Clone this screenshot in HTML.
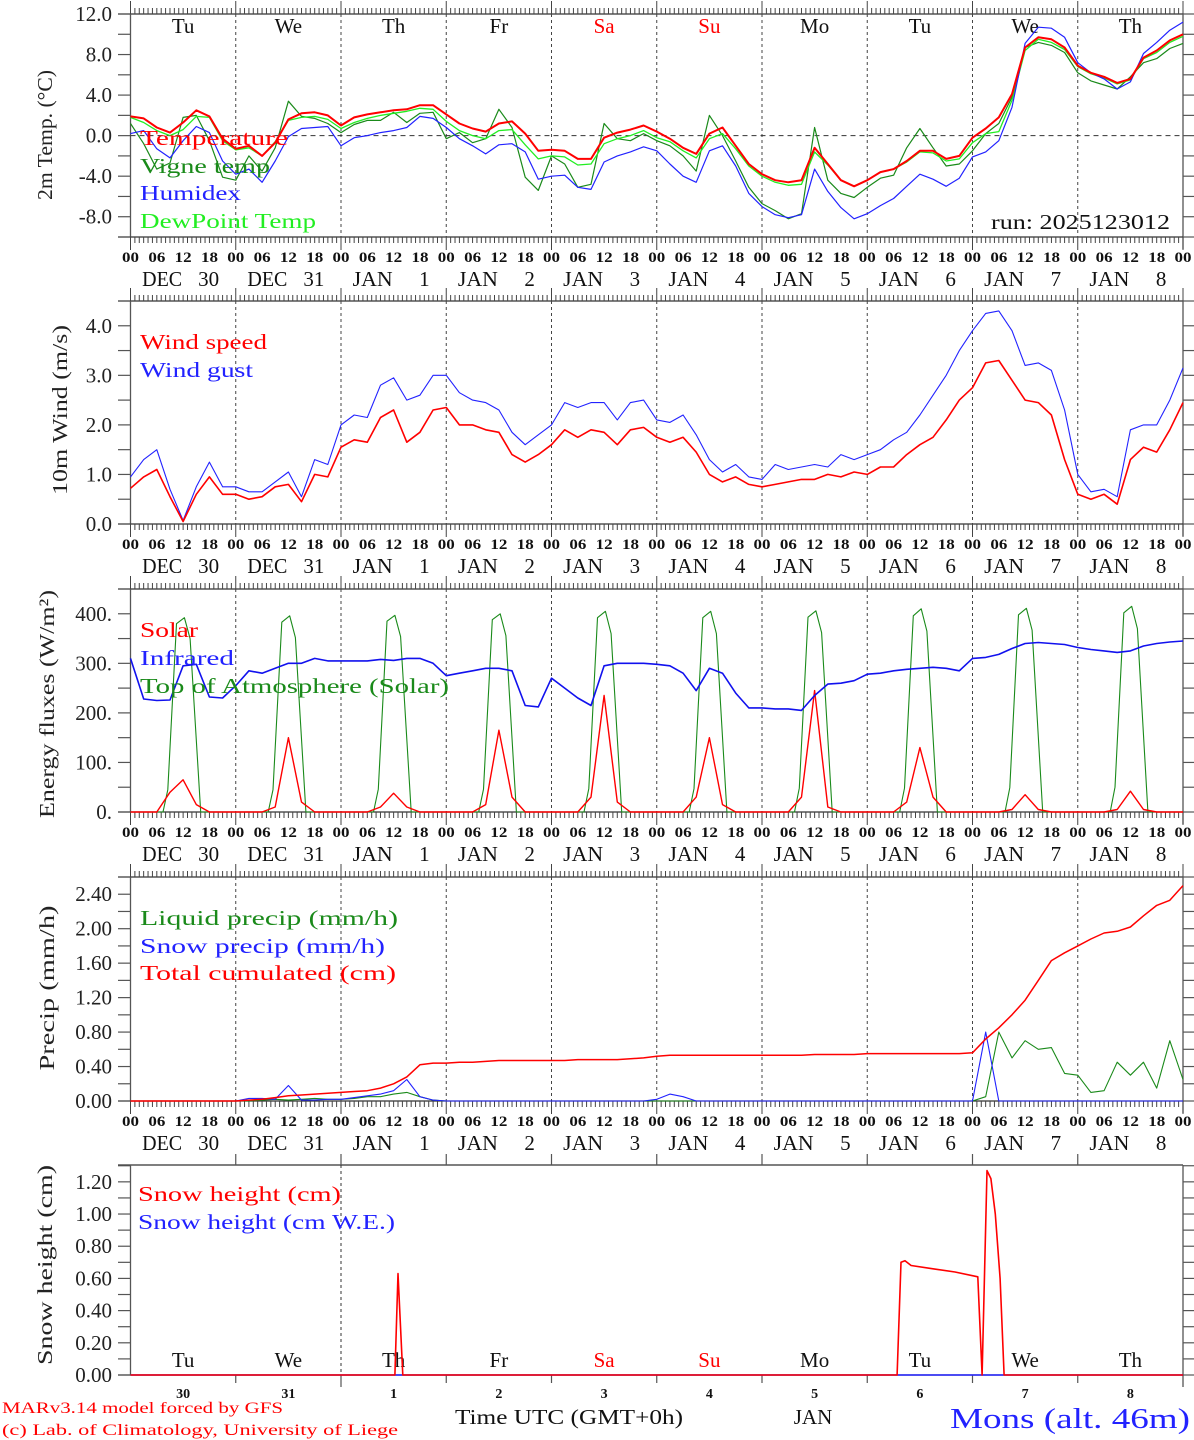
<!DOCTYPE html>
<html><head><meta charset="utf-8"><title>MAR forecast Mons</title>
<style>
html,body{margin:0;padding:0;background:#fff;}
svg{display:block;font-family:"Liberation Serif",serif;}
</style></head>
<body>
<svg id="chart" xmlns="http://www.w3.org/2000/svg" width="1194" height="1440" viewBox="0 0 1194 1440"></svg>
<script>
// ---------- DATA (3-hourly, Dec 30 00UTC .. Jan 9 00UTC) ----------
const dayNames = ["Tu","We","Th","Fr","Sa","Su","Mo","Tu","We","Th"];
const weekendDays = [4,5];
const months = ["DEC","DEC","JAN","JAN","JAN","JAN","JAN","JAN","JAN","JAN"];
const dayNums = ["30","31","1","2","3","4","5","6","7","8"];
const hourLabels = ["00","06","12","18"];

const temperature = [1.9,1.7,0.8,0.3,1.3,2.5,1.9,-0.3, -1.3,-1.0,-2.0,-0.7,1.6,2.2,2.3,2.0, 1.0,1.8,2.1,2.3,2.5,2.6,3.0,3.0, 2.1,1.2,0.7,0.4,1.2,1.4,0.2,-1.5, -1.4,-1.5,-2.3,-2.3,-0.2,0.3,0.6,1.0, 0.4,-0.3,-1.2,-1.8,0.2,0.8,-1.0,-2.8, -3.8,-4.4,-4.6,-4.4,-1.2,-2.8,-4.4,-5.0, -4.4,-3.6,-3.3,-2.5,-1.5,-1.5,-2.3,-2.0, -0.2,0.7,1.8,4.1,8.7,9.7,9.5,8.7, 6.9,6.2,5.8,5.2,5.6,7.7,8.4,9.4, 10.0];
const vigneTemp = [1.2,-0.8,-3.3,-2.7,1.8,2.0,-0.5,-4.1, -4.4,-2.0,-3.5,-1.2,3.4,1.9,1.7,1.2, 0.3,1.1,1.5,1.5,2.3,1.3,2.2,2.3, -0.3,0.3,-0.7,-0.3,2.6,0.8,-4.1,-5.4, -2.0,-2.8,-5.1,-4.8,1.2,-0.3,-0.5,0.2, -0.5,-1.0,-2.0,-3.5,2.0,0.0,-2.5,-5.1, -6.7,-7.4,-8.2,-7.7,0.8,-4.4,-5.7,-6.1, -5.1,-4.2,-3.9,-1.2,0.7,-1.2,-3.0,-2.8, -1.5,0.2,1.2,3.8,8.7,9.2,8.9,8.2, 6.2,5.4,5.0,4.6,5.8,7.2,7.6,8.6, 9.1];
const humidex = [0.2,0.5,-1.3,-2.2,-0.5,0.9,0.3,-2.5, -3.8,-3.3,-4.6,-2.5,-0.1,0.7,0.8,0.9, -1.0,-0.2,0.0,0.3,0.5,0.8,1.9,1.7, 0.8,-0.3,-1.0,-1.8,-0.9,-0.8,-1.6,-4.3, -4.0,-3.9,-5.1,-5.3,-2.6,-2.0,-1.6,-1.1, -1.5,-2.8,-4.0,-4.6,-1.5,-1.0,-3.0,-5.7, -7.0,-7.8,-8.1,-7.8,-3.3,-5.5,-7.1,-8.2, -7.7,-6.9,-6.2,-5.0,-3.8,-4.3,-5.0,-4.2, -2.1,-1.6,-0.5,2.8,9.1,10.7,10.6,9.7, 7.2,6.2,5.6,4.6,5.3,8.1,9.2,10.4, 11.2];
const dewPoint = [1.8,1.3,0.5,0.0,0.6,1.9,1.8,-0.5, -1.4,-1.2,-2.0,-0.6,1.5,1.8,1.9,1.6, 0.7,1.3,1.7,2.0,2.2,2.4,2.7,2.6, 1.4,0.5,0.0,-0.3,0.5,0.6,-0.9,-2.3, -2.0,-2.1,-2.9,-2.8,-0.8,-0.3,0.0,0.5, -0.2,-0.6,-1.5,-2.2,-0.3,0.2,-1.3,-3.0, -4.0,-4.6,-4.9,-4.8,-1.6,-2.9,-4.4,-5.0, -4.4,-3.6,-3.3,-2.6,-1.6,-1.7,-2.5,-2.3, -0.7,0.2,0.4,3.5,8.4,9.5,9.2,8.5, 6.8,6.1,5.7,5.1,5.5,7.6,8.2,9.2, 9.8];

const windSpeed = [0.72,0.95,1.1,0.55,0.05,0.6,0.95,0.6, 0.6,0.5,0.55,0.75,0.8,0.45,1.0,0.95, 1.55,1.7,1.65,2.15,2.3,1.65,1.85,2.3, 2.35,2.0,2.0,1.9,1.85,1.4,1.25,1.4, 1.6,1.9,1.75,1.9,1.85,1.6,1.9,1.95, 1.75,1.65,1.75,1.45,1.0,0.85,0.95,0.8, 0.75,0.8,0.85,0.9,0.9,1.0,0.95,1.05, 1.0,1.15,1.15,1.4,1.6,1.75,2.1,2.5, 2.75,3.25,3.3,2.9,2.5,2.45,2.2,1.3, 0.6,0.5,0.6,0.4,1.3,1.55,1.45,1.9, 2.45];
const windGust = [0.95,1.3,1.5,0.7,0.07,0.75,1.25,0.75, 0.75,0.65,0.65,0.85,1.05,0.55,1.3,1.2, 2.0,2.2,2.15,2.8,2.95,2.5,2.6,3.0, 3.0,2.65,2.5,2.45,2.3,1.85,1.6,1.8, 2.0,2.45,2.35,2.45,2.45,2.1,2.45,2.5, 2.1,2.05,2.2,1.8,1.3,1.05,1.2,0.95, 0.9,1.2,1.1,1.15,1.2,1.15,1.4,1.3, 1.4,1.5,1.7,1.85,2.2,2.6,3.0,3.5, 3.9,4.25,4.3,3.9,3.2,3.25,3.1,2.3, 1.0,0.65,0.7,0.55,1.9,2.0,2.0,2.5, 3.15];

const solar = [0,0,0,40,65,15,0,0, 0,0,0,10,150,20,0,0, 0,0,0,10,38,10,0,0, 0,0,0,15,165,30,0,0, 0,0,0,30,235,20,0,0, 0,0,0,30,150,15,0,0, 0,0,0,30,245,10,0,0, 0,0,0,20,130,30,0,0, 0,0,0,5,35,5,0,0, 0,0,0,5,42,5,0,0, 0];
const infrared = [310,228,225,226,295,298,232,230, 255,285,280,290,300,300,310,305, 305,305,305,308,306,310,310,300, 275,280,285,290,290,285,215,212, 270,250,230,215,295,300,300,300, 298,295,280,245,290,280,240,210, 210,208,208,205,235,258,260,265, 278,280,285,288,290,292,290,285, 310,312,318,330,340,342,340,338, 332,328,325,322,325,335,340,343, 345];
const toaHours = [0, 7.4,8.5,10.5,12.3,13.6,16, 31.4,32.5,34.5,36.3,37.6,40, 55.4,56.5,58.5,60.3,61.6,64, 79.4,80.5,82.5,84.3,85.6,88, 103.4,104.5,106.5,108.3,109.6,112, 127.4,128.5,130.5,132.3,133.6,136, 151.4,152.5,154.5,156.3,157.6,160, 175.4,176.5,178.5,180.3,181.6,184, 199.4,200.5,202.5,204.3,205.6,208, 223.4,224.5,226.5,228.3,229.6,232, 240];
const topOfAtmosphere = [0, 0,45,380,392,350,0, 0,45,383,396,352,0, 0,46,385,397,354,0, 0,46,388,400,356,0, 0,47,392,405,360,0, 0,47,392,405,360,0, 0,48,393,406,362,0, 0,48,396,410,365,0, 0,49,398,411,367,0, 0,50,402,415,370,0, 0];

const liquidPrecip = [0,0,0,0,0,0,0,0, 0,0,0.01,0.02,0.01,0.02,0.03,0.02, 0.02,0.03,0.05,0.05,0.08,0.1,0.05,0.01, 0,0,0,0,0,0,0,0, 0,0,0,0,0,0,0,0, 0,0,0,0,0,0,0,0, 0,0,0,0,0,0,0,0, 0,0,0,0,0,0,0,0, 0,0.05,0.8,0.5,0.7,0.6,0.62,0.32, 0.3,0.1,0.12,0.45,0.3,0.45,0.15,0.7, 0.25];
const snowPrecip = [0,0,0,0,0,0,0,0, 0,0.03,0.03,0.02,0.18,0.01,0.01,0.02, 0.02,0.04,0.06,0.08,0.12,0.25,0.05,0.01, 0,0,0,0,0,0,0,0, 0,0,0,0,0,0,0,0, 0.02,0.08,0.05,0,0,0,0,0, 0,0,0,0,0,0,0,0, 0,0,0,0,0,0,0,0, 0,0.8,0,0,0,0,0,0, 0,0,0,0,0,0,0,0, 0];
const totalCumulated = [0,0,0,0,0,0,0,0, 0,0.01,0.02,0.04,0.06,0.07,0.08,0.09, 0.10,0.11,0.12,0.15,0.20,0.28,0.42,0.44, 0.44,0.45,0.45,0.46,0.47,0.47,0.47,0.47, 0.47,0.47,0.48,0.48,0.48,0.48,0.49,0.50, 0.52,0.53,0.53,0.53,0.53,0.53,0.53,0.53, 0.53,0.53,0.53,0.53,0.54,0.54,0.54,0.54, 0.55,0.55,0.55,0.55,0.55,0.55,0.55,0.55, 0.56,0.72,0.85,1.0,1.17,1.4,1.63,1.72, 1.8,1.88,1.95,1.97,2.02,2.15,2.27,2.33, 2.50];

const snowHours = [0,60.3,61,62.1,174.8,175.7,176.6,178,183,188,193.2,194.2,195.3,196.2,197.2,198.3,199.2,240];
const snowHeight = [0,0,0.63,0,0,0.70,0.71,0.68,0.66,0.64,0.61,0,1.27,1.22,1.0,0.6,0,0];
const snowWEHours = [0,240];
const snowWE = [0,0];

// ---------- DRAWING ----------
const svg = document.getElementById('chart');
const NS = 'http://www.w3.org/2000/svg';
const X0 = 130.5, X1 = 1183, HOURS = 240;
function X(h){ return X0 + h*(X1-X0)/HOURS; }
function mk(tag, attrs, parent){
  const e = document.createElementNS(NS, tag);
  for (const k in attrs) e.setAttribute(k, attrs[k]);
  (parent||svg).appendChild(e);
  return e;
}
function txt(str, x, y, size, fill, anchor, len, parent){
  const t = mk('text', {x:x, y:y, 'font-size':size, fill:fill||'#000', 'text-anchor':anchor||'start'}, parent);
  if (len){ t.setAttribute('textLength', len); t.setAttribute('lengthAdjust','spacingAndGlyphs'); }
  t.textContent = str;
  return t;
}

const panels = [
  {name:'temperature-panel', top:14, bot:237, vmin:-10, vmax:12, minor:2, major:4, fmt:v=>v.toFixed(1), title:'2m Temp. (\u00B0C)', tx:45, ty:135, tl:130},
  {name:'wind-panel', top:301, bot:524, vmin:0, vmax:4.5, minor:0.5, major:1, fmt:v=>v.toFixed(1), title:'10m Wind (m/s)', tx:60, ty:410, tl:170},
  {name:'energy-panel', top:589, bot:812, vmin:0, vmax:450, minor:50, major:100, fmt:v=>v.toFixed(0)+'.', title:'Energy fluxes (W/m\u00B2)', tx:47, ty:704, tl:228},
  {name:'precip-panel', top:877, bot:1101, vmin:0, vmax:2.6, minor:0.2, major:0.4, fmt:v=>v.toFixed(2), title:'Precip (mm/h)', tx:47, ty:988, tl:165},
  {name:'snow-panel', top:1165, bot:1375, vmin:0, vmax:1.3046, minor:0.1, major:0.2, fmt:v=>v.toFixed(2), title:'Snow height (cm)', tx:45, ty:1265, tl:200, snow:true}
];
panels.forEach(p=>{ p.Y = v => p.bot - (v-p.vmin)*(p.bot-p.top)/(p.vmax-p.vmin); });

panels.forEach((p,pi)=>{
  const g = mk('g', {});
  
  
  mk('line',{x1:118,y1:p.top,x2:X1,y2:p.top,stroke:'#333','stroke-width':1.3},g);
  mk('line',{x1:X0,y1:p.top,x2:X0,y2:p.bot,stroke:'#555','stroke-width':1.3},g);
  mk('line',{x1:X1,y1:p.top,x2:X1,y2:p.bot+12,stroke:'#555','stroke-width':1.3},g);
  mk('line',{x1:118,y1:p.bot,x2:X1,y2:p.bot,stroke:'#333','stroke-width':1.3},g);
  const nMin = Math.round((Math.min(p.vmax, p.snow?1.3:p.vmax)-p.vmin)/p.minor);
  for (let i=0;i<=nMin;i++){
    const v = p.vmin + i*p.minor;
    const y = p.Y(v);
    mk('line',{x1:118,y1:y,x2:X0,y2:y,stroke:'#555','stroke-width':1.2},g);
    mk('line',{x1:X1,y1:y,x2:X1+11,y2:y,stroke:'#555','stroke-width':1.2},g);
    const r = Math.round(v/p.major*1000)/1000;
    if (Math.abs(r-Math.round(r))<1e-6 && y>=p.top-1 && !(pi===0 && v<-9)){
      const lab = txt(p.fmt(v), 112, y+7, 21, '#222', 'end', null, g);
      
      
    }
  }
  const t = txt(p.title, 0, 0, 21, '#222', 'middle', p.tl, g);
  t.setAttribute('transform','translate('+(p.tx+7)+','+p.ty+') rotate(-90)');
  
  
  if (!p.snow){
    for (let h=0; h<=HOURS; h++){
      const x = X(h);
      const day = h%24===0;
      mk('line',{x1:x,y1:p.top-(day?13:6),x2:x,y2:p.top,stroke:'#444','stroke-width':1},g);
      mk('line',{x1:x,y1:p.bot,x2:x,y2:p.bot+(day?13:6),stroke:'#444','stroke-width':1},g);
    }
    for (let d=1; d<10; d++){
      mk('line',{x1:X(d*24),y1:p.top,x2:X(d*24),y2:p.bot,stroke:'#444','stroke-width':1,'stroke-dasharray':'3,3'},g);
    }
    for (let d=0; d<10; d++){
      hourLabels.forEach((hl,k)=>{
        txt(hl, X(d*24+k*6), p.bot+25, 15, '#111', 'middle', 17, g).setAttribute('font-weight','bold');
      });
      const c = X(d*24+12);
      const m = txt(months[d], c-41, p.bot+49, 21, '#111', 'start', 40, g);
      
      
      txt(dayNums[d], c+36, p.bot+49, 21, '#111', 'end', null, g);
    }
    txt('00', X(240), p.bot+25, 15, '#111', 'middle', 17, g).setAttribute('font-weight','bold');
  } else {
    for (let d=1; d<10; d++){
      mk('line',{x1:X(d*24),y1:p.top-11,x2:X(d*24),y2:p.top,stroke:'#555','stroke-width':1.2},g);
      mk('line',{x1:X(d*24),y1:p.bot,x2:X(d*24),y2:p.bot+(d===2?12:8),stroke:'#555','stroke-width':1.2},g);
    }
    mk('line',{x1:X(48),y1:p.top,x2:X(48),y2:p.bot,stroke:'#333','stroke-width':1,'stroke-dasharray':'3,3'},g);
    for (let d=0; d<10; d++){
      const c = X(d*24+12);
      const dn = txt(dayNames[d], c, 1367, 21, weekendDays.includes(d)?'#f00':'#111', 'middle', null, g);
      
      
      txt(dayNums[d], c, 1398, 14, '#111', 'middle', null, g).setAttribute('font-weight','bold');
    }
  }
});

dayNames.forEach((dn,d)=>{
  const t = txt(dn, X(d*24+12), 33, 21, weekendDays.includes(d)?'#f00':'#111', 'middle');
  
  
});
mk('line',{x1:X0,y1:panels[0].Y(0),x2:X1,y2:panels[0].Y(0),stroke:'#333','stroke-width':1,'stroke-dasharray':'5,4'});

function series(arr, p, color, width, name, hours){
  let d = '';
  arr.forEach((v,i)=>{
    const h = hours ? hours[i] : i*3;
    d += (i?'L':'M') + X(h).toFixed(1) + ',' + p.Y(v).toFixed(1);
  });
  const path = mk('path',{d:d, fill:'none', stroke:color, 'stroke-width':width, 'stroke-linejoin':'round'});
  
  
  return path;
}
function legend(str, x, y, color, len){
  const t = txt(str, x, y, 21, color, 'start', len);
  
  
}
const [pT,pW,pE,pP,pS] = panels;
series(vigneTemp, pT, '#1a8a1a', 1.2, 'vigne-temp-line');
series(dewPoint, pT, '#22ee22', 1.3, 'dewpoint-line');
series(humidex, pT, '#2222ff', 1.2, 'humidex-line');
series(temperature, pT, '#ff0000', 2, 'temperature-line');
legend('Temperature', 140, 145, '#ff0000', 148);
legend('Vigne temp', 140, 173, '#1a8a1a', 130);
legend('Humidex', 140, 200, '#2222ff', 101);
legend('DewPoint Temp', 140, 228, '#22ee22', 176);
txt('run: 2025123012', 991, 229, 21, '#111', 'start', 179);

series(windGust, pW, '#2222ff', 1.1, 'wind-gust-line');
series(windSpeed, pW, '#ff0000', 1.6, 'wind-speed-line');
legend('Wind speed', 140, 349, '#ff0000', 127);
legend('Wind gust', 140, 377, '#2222ff', 113);

series(topOfAtmosphere, pE, '#1a8a1a', 1.1, 'toa-solar-line', toaHours);
series(solar, pE, '#ff0000', 1.4, 'solar-line');
series(infrared, pE, '#1111ee', 1.6, 'infrared-line');
legend('Solar', 140, 637, '#ff0000', 58);
legend('Infrared', 140, 665, '#2222ff', 94);
legend('Top of Atmosphere (Solar)', 140, 693, '#1a8a1a', 309);

series(liquidPrecip, pP, '#1a8a1a', 1.1, 'liquid-precip-line');
series(snowPrecip, pP, '#2222ff', 1.1, 'snow-precip-line');
series(totalCumulated, pP, '#ff0000', 1.5, 'total-cumulated-line');
legend('Liquid precip (mm/h)', 140, 925, '#1a8a1a', 258);
legend('Snow precip (mm/h)', 140, 953, '#2222ff', 245);
legend('Total cumulated (cm)', 140, 980, '#ff0000', 256);

series(snowWE, pS, '#2222ff', 1.4, 'snow-we-line', snowWEHours);
series(snowHeight, pS, '#ff0000', 1.6, 'snow-height-line', snowHours);
legend('Snow height (cm)', 138, 1201, '#ff0000', 203);
legend('Snow height (cm W.E.)', 138, 1229, '#2222ff', 257);

txt('MARv3.14 model forced by GFS', 2, 1413, 16, '#ff0000', 'start', 281);
txt('(c) Lab. of Climatology, University of Liege', 2, 1435, 16, '#ff0000', 'start', 396);
txt('Time UTC (GMT+0h)', 569, 1424, 21, '#111', 'middle', 228);
txt('JAN', 813, 1424, 21, '#111', 'middle');
txt('Mons (alt. 46m)', 1190, 1428, 28, '#2222ff', 'end', 240);
</script>
</body></html>
